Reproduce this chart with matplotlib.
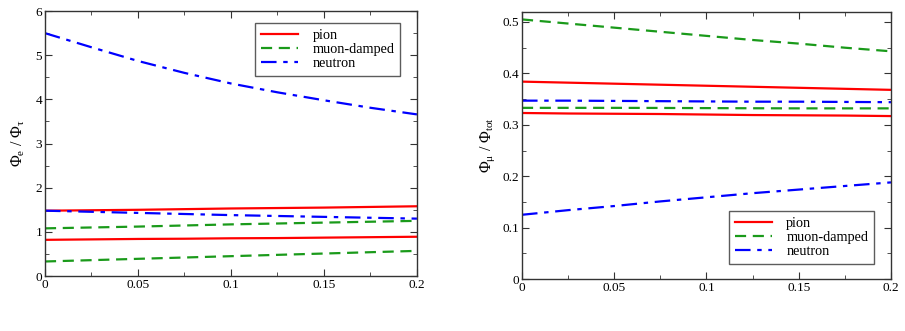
import matplotlib
matplotlib.use("Agg")
import matplotlib.pyplot as plt
from matplotlib.ticker import MultipleLocator

plt.rcParams['font.family'] = ['Liberation Serif', 'DejaVu Serif']
plt.rcParams['mathtext.fontset'] = 'custom'
plt.rcParams['mathtext.rm'] = 'Liberation Serif'
plt.rcParams['mathtext.it'] = 'Liberation Serif:italic'

x = [0.0, 0.025, 0.05, 0.075, 0.1, 0.125, 0.15, 0.175, 0.2]

# Left panel: Phi_e / Phi_tau
left_pion_hi = [1.48, 1.49, 1.50, 1.515, 1.53, 1.54, 1.55, 1.565, 1.58]
left_pion_lo = [0.82, 0.83, 0.84, 0.845, 0.855, 0.86, 0.87, 0.88, 0.89]
left_muon_hi = [1.08, 1.10, 1.12, 1.145, 1.17, 1.19, 1.21, 1.23, 1.25]
left_muon_lo = [0.33, 0.36, 0.39, 0.42, 0.45, 0.48, 0.51, 0.54, 0.57]
left_neut_hi = [5.50, 5.18, 4.87, 4.60, 4.36, 4.16, 3.98, 3.81, 3.66]
left_neut_lo = [1.48, 1.455, 1.43, 1.405, 1.38, 1.36, 1.34, 1.32, 1.30]

# Right panel: Phi_mu / Phi_tot
right_pion_hi = [0.384, 0.382, 0.380, 0.378, 0.376, 0.374, 0.372, 0.370, 0.368]
right_pion_lo = [0.323, 0.322, 0.3215, 0.321, 0.320, 0.319, 0.3185, 0.318, 0.317]
right_muon_hi = [0.505, 0.497, 0.489, 0.481, 0.473, 0.465, 0.458, 0.450, 0.443]
right_muon_lo = [0.333, 0.333, 0.333, 0.3328, 0.3325, 0.3322, 0.332, 0.332, 0.332]
right_neut_hi = [0.347, 0.347, 0.3465, 0.346, 0.3455, 0.345, 0.345, 0.3445, 0.344]
right_neut_lo = [0.125, 0.134, 0.142, 0.151, 0.159, 0.167, 0.174, 0.181, 0.188]

labels = ['pion', 'muon-damped', 'neutron']
xticks = [0, 0.05, 0.1, 0.15, 0.2]
xticklabels = ['0', '0.05', '0.1', '0.15', '0.2']

red = '#ff0000'
green = '#1a9a1a'
blue = '#0000ff'
dash = (0, (5, 3))
dashdot = (0, (7, 3, 2, 3))

fig = plt.figure(figsize=(9.05, 3.31), dpi=100)
ax1 = fig.add_axes([0.0497, 0.166, 0.411, 0.8006])
ax2 = fig.add_axes([0.5768, 0.157, 0.4077, 0.8076])

def style(ax):
    for s in ax.spines.values():
        s.set_color('#333333')
        s.set_linewidth(1.0)
    ax.tick_params(which='both', direction='in', top=True, right=True,
                   labelsize=9.5, color='#333333', pad=2)
    ax.tick_params(which='major', length=5)
    ax.tick_params(which='minor', length=3)
    ax.set_xlim(0, 0.2)
    ax.set_xticks(xticks)
    ax.set_xticklabels(xticklabels)
    ax.xaxis.set_minor_locator(MultipleLocator(0.025))

leg_kw = dict(fontsize=10.3, frameon=True, fancybox=False, edgecolor='#333333',
              handlelength=2.6, borderpad=0.4, labelspacing=0.08, handletextpad=1.0,
              borderaxespad=0.0)

lw = 1.6
l1, = ax1.plot(x, left_pion_hi, color=red, lw=lw)
ax1.plot(x, left_pion_lo, color=red, lw=lw)
l2, = ax1.plot(x, left_muon_hi, color=green, lw=lw, linestyle=dash)
ax1.plot(x, left_muon_lo, color=green, lw=lw, linestyle=dash)
l3, = ax1.plot(x, left_neut_hi, color=blue, lw=lw, linestyle=dashdot)
ax1.plot(x, left_neut_lo, color=blue, lw=lw, linestyle=dashdot)
style(ax1)
ax1.set_ylim(0, 6)
ax1.yaxis.set_major_locator(MultipleLocator(1))
ax1.yaxis.set_minor_locator(MultipleLocator(0.5))
ax1.set_ylabel(r'$\mathrm{\Phi_{e}\ /\ \Phi_{\tau}}$', fontsize=11.5, labelpad=6)
leg1 = ax1.legend([l1, l2, l3], labels, loc='upper right', bbox_to_anchor=(0.955, 0.955), **leg_kw)
leg1.get_frame().set_linewidth(1.0)

m1, = ax2.plot(x, right_pion_hi, color=red, lw=lw)
ax2.plot(x, right_pion_lo, color=red, lw=lw)
m2, = ax2.plot(x, right_muon_hi, color=green, lw=lw, linestyle=dash)
ax2.plot(x, right_muon_lo, color=green, lw=lw, linestyle=dash)
m3, = ax2.plot(x, right_neut_hi, color=blue, lw=lw, linestyle=dashdot)
ax2.plot(x, right_neut_lo, color=blue, lw=lw, linestyle=dashdot)
style(ax2)
ax2.set_ylim(0, 0.52)
ax2.set_yticks([0, 0.1, 0.2, 0.3, 0.4, 0.5])
ax2.set_yticklabels(['0', '0.1', '0.2', '0.3', '0.4', '0.5'])
ax2.yaxis.set_minor_locator(MultipleLocator(0.05))
ax2.set_ylabel(r'$\mathrm{\Phi_{\mu}\ /\ \Phi_{tot}}$', fontsize=11.5, labelpad=4)
leg2 = ax2.legend([m1, m2, m3], labels, loc='lower right', bbox_to_anchor=(0.954, 0.056), **leg_kw)
leg2.get_frame().set_linewidth(1.0)

fig.savefig('out.png', dpi=100)
